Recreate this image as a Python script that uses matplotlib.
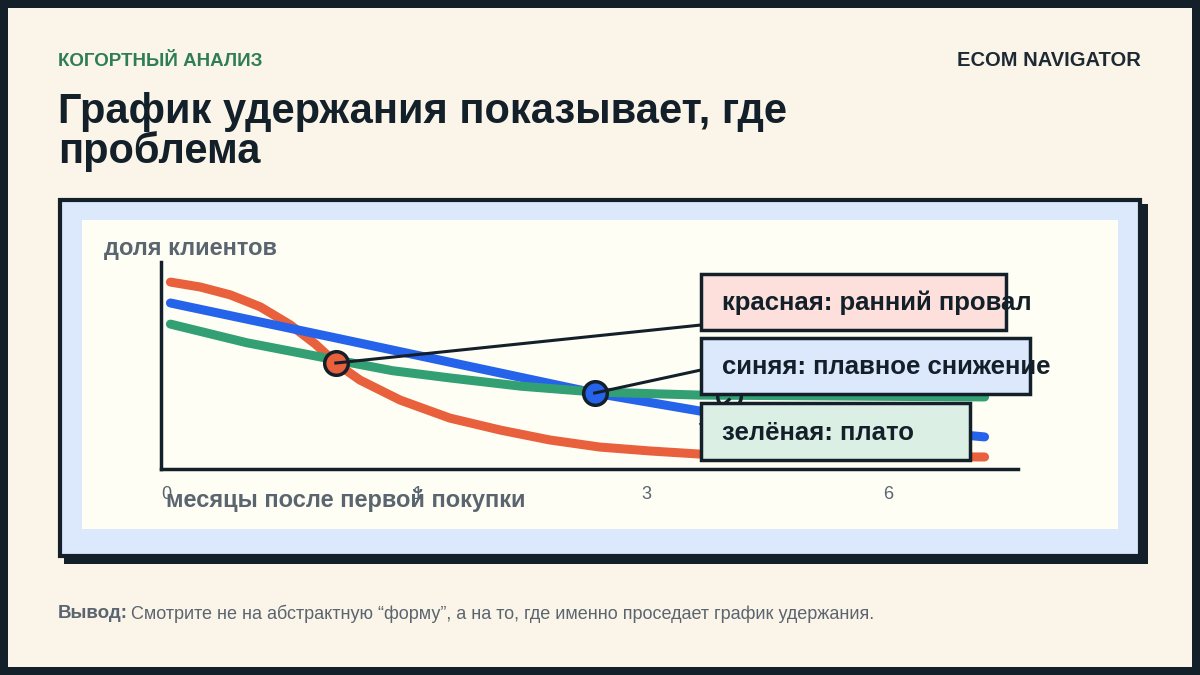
import matplotlib
matplotlib.use("Agg")
import matplotlib.pyplot as plt
from matplotlib.patches import Rectangle

plt.rcParams['font.family'] = ['Liberation Sans', 'DejaVu Sans']

# ---- data (position along x-axis in %, retention in %) ----
red_x = [1.1, 4.6, 8.1, 11.6, 15.1, 18.0, 20.4, 23.2, 27.9, 33.7, 39.6, 45.4, 51.2, 57.1, 62.9, 74.6, 96.1]
red_y = [90.3, 87.9, 84.1, 78.3, 69.6, 60.4, 51.2, 43.0, 33.3, 24.6, 18.8, 14.0, 10.6, 8.7, 7.2, 6.3, 5.8]
blue_x = [1.1, 20.4, 50.6, 62.9, 96.1]
blue_y = [80.2, 63.3, 36.7, 28.0, 15.5]
green_x = [1.1, 10.0, 20.4, 27.0, 33.7, 42.0, 50.6, 62.9, 96.1]
green_y = [70.0, 61.0, 52.7, 47.5, 44.0, 40.0, 37.2, 35.7, 34.8]
markers = [(20.4, 51.2, '#e8603c'), (50.6, 36.7, '#2563eb'), (66.3, 35.5, None)]
tick_pos = [0.6, 30.0, 56.6, 84.9]
tick_labels = ['0', '1', '3', '6']
labels = ['красная: ранний провал', 'синяя: плавное снижение', 'зелёная: плато']

W, H = 1200, 675
fig = plt.figure(figsize=(12, 6.75), dpi=100)
fig.patch.set_facecolor('#13202a')

ov = fig.add_axes([0, 0, 1, 1], zorder=0)
ov.set_xlim(0, W); ov.set_ylim(H, 0); ov.axis('off')
ov.add_patch(Rectangle((8, 8), W - 16, H - 16, fc='#fbf4e8', ec='none'))
ov.add_patch(Rectangle((64, 204), 1084, 360, fc='#13202a', ec='none'))
ov.add_patch(Rectangle((60, 200), 1080, 356, fc='#dce8fb', ec='#13202a', lw=3))
ov.add_patch(Rectangle((82, 220), 1036, 309, fc='#fffef5', ec='none'))

ov.text(58, 62, 'КОГОРТНЫЙ АНАЛИЗ', color='#2e7d55', fontsize=13.5, fontweight='bold', va='center')
ov.text(1141, 61, 'ECOM NAVIGATOR', color='#1d2a33', fontsize=14.5, fontweight='bold', va='center', ha='right')
ov.text(58, 132, 'График удержания показывает, где\nпроблема', color='#13202a', fontsize=30,
        fontweight='bold', va='center', linespacing=1.0)
ov.text(104, 248, 'доля клиентов', color='#5a6570', fontsize=17, fontweight='bold', va='center')
ov.text(166, 501, 'месяцы после первой покупки', color='#5a6570', fontsize=17, fontweight='bold', va='center')
ov.text(58, 614, 'Вывод:', color='#5a6570', fontsize=13.5, fontweight='bold', va='center')
ov.text(131, 614, 'Смотрите не на абстрактную “форму”, а на то, где именно проседает график удержания.',
        color='#5a6570', fontsize=13, va='center')

ax = fig.add_axes([161 / W, 1 - 469 / H, 857 / W, 207 / H], zorder=1)
ax.patch.set_alpha(0)
ax.set_xlim(0, 100); ax.set_ylim(0, 100)
for s in ['top', 'right']:
    ax.spines[s].set_visible(False)
for s in ['left', 'bottom']:
    ax.spines[s].set_linewidth(2.5); ax.spines[s].set_color('#13202a')
ax.set_yticks([])
ax.set_xticks(tick_pos)
ax.set_xticklabels(tick_labels, color='#5a6570', fontsize=13)
ax.tick_params(axis='x', length=0, pad=12)

for xs, ys, c in [(red_x, red_y, '#e8603c'), (blue_x, blue_y, '#2563eb'), (green_x, green_y, '#32a073')]:
    ax.plot(xs, ys, color=c, lw=6.5, solid_capstyle='round', solid_joinstyle='round', clip_on=False)
for mx, my, c in markers:
    ax.plot(mx, my, 'o', ms=17, mfc=c if c else 'none', mec='#13202a', mew=2.5, clip_on=False, zorder=5)

top = fig.add_axes([0, 0, 1, 1], zorder=2)
top.set_xlim(0, W); top.set_ylim(H, 0); top.axis('off'); top.patch.set_alpha(0)
fig.canvas.draw()

def to_px(x, y):
    d = ax.transData.transform((x, y))
    return top.transData.inverted().transform(d)

ends = [(701, 325), (701, 370), (701, 424)]
for (mx, my, c), (ex, ey) in zip(markers, ends):
    px, py = to_px(mx, my)
    if c is None:
        py += 4
    top.plot([px, ex], [py, ey], color='#13202a', lw=2.2, zorder=1)

boxes = [(701, 274, 305, 56, '#fde0dc'), (701, 338, 329, 56, '#dce8fb'), (701, 403, 269, 57, '#dcefe5')]
for (bx, by, bw, bh, fc), t in zip(boxes, labels):
    top.add_patch(Rectangle((bx, by), bw, bh, fc=fc, ec='#13202a', lw=2.5, zorder=2))
    top.text(bx + 21, by + bh / 2 + 1, t, color='#13202a', fontsize=18.5, fontweight='bold', va='center', zorder=3)

fig.savefig('out.png', dpi=100, facecolor=fig.get_facecolor())
